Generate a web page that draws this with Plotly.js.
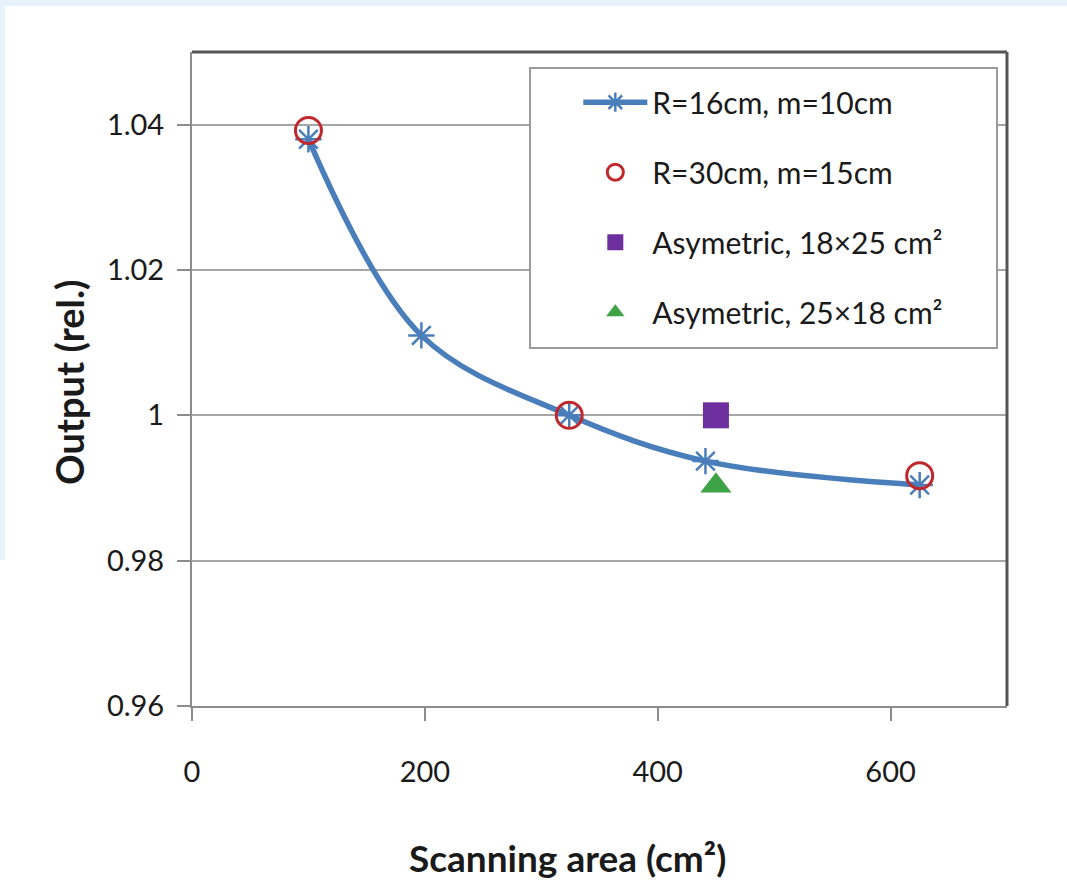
<!DOCTYPE html>
<html>
<head>
<meta charset="utf-8">
<script src="https://cdn.plot.ly/plotly-3.0.1.min.js"></script>
<style>
  html, body { margin: 0; padding: 0; background: #ffffff; }
  #chart { position: absolute; left: 0; top: 0; width: 1067px; height: 884px; }
  .strip { position: absolute; background: #e7f3fc; pointer-events: none; z-index: 5; }
</style>
</head>
<body>
<div id="chart"></div>
<div class="strip" style="left:0;top:0;width:1067px;height:6px;"></div>
<div class="strip" style="left:0;top:0;width:5px;height:560px;"></div>
<script>
// ---- data ----
const seriesNames = [
  "R=16cm, m=10cm",
  "R=30cm, m=15cm",
  "Asymetric, 18×25 cm²",
  "Asymetric, 25×18 cm²"
];
const r16_x = [100, 197, 324, 441, 625];
const r16_y = [1.038, 1.011, 1.000, 0.9937, 0.9904];
const r30_x = [100, 324, 625];
const r30_y = [1.0392, 1.000, 0.9917];
const asym1825_x = [450];
const asym1825_y = [1.000];
const asym2518_x = [450];
const asym2518_y = [0.9903];
const xTickVals = [0, 200, 400, 600];
const xTickText = ["0", "200", "400", "600"];
const yTickVals = [0.96, 0.98, 1.00, 1.02, 1.04];
const yTickText = ["0.96", "0.98", "1", "1.02", "1.04"];
const xTitle = "Scanning area (cm²)";
const yTitle = "Output (rel.)";

const FONT = "Lato, 'Open Sans', 'Liberation Sans', sans-serif";

const traces = [
  {
    x: r16_x, y: r16_y, name: seriesNames[0], type: "scatter", mode: "lines+markers",
    line: { color: "#4a7ebb", width: 5.5, shape: "spline", smoothing: 1 },
    marker: { symbol: "asterisk-open", size: 22, color: "#4a7ebb", line: { color: "#4a7ebb", width: 2.5 } },
    legendgroup: "g1"
  },
  {
    x: r30_x, y: r30_y, name: seriesNames[1], type: "scatter", mode: "markers",
    marker: { symbol: "circle-open", size: 26, color: "#c0282d", line: { color: "#c0282d", width: 3 } },
    legendgroup: "g2"
  },
  {
    x: asym1825_x, y: asym1825_y, name: seriesNames[2], type: "scatter", mode: "markers",
    marker: { symbol: "square", size: 26, color: "#6e2f9e" },
    legendgroup: "g3"
  },
  {
    x: asym2518_x, y: asym2518_y, name: seriesNames[3], type: "scatter", mode: "markers",
    marker: { symbol: "triangle-up", size: 27, color: "#3ea346" },
    legendgroup: "g4"
  }
];

const layout = {
  width: 1067, height: 884,
  margin: { l: 192, r: 60, t: 52, b: 178 },
  paper_bgcolor: "#ffffff",
  plot_bgcolor: "#ffffff",
  font: { family: FONT, color: "#1a1a1a" },
  showlegend: true,
  legend: {
    x: 0.474, y: 0.963, xanchor: "left", yanchor: "top",
    bgcolor: "rgba(0,0,0,0)", borderwidth: 0,
    font: { family: FONT, size: 30, color: "#1a1a1a" },
    tracegroupgap: 28, itemwidth: 64, traceorder: "grouped"
  },
  xaxis: {
    range: [0, 700],
    tickmode: "array", tickvals: xTickVals, ticktext: xTickText,
    ticks: "outside", ticklen: 13, tickwidth: 2, tickcolor: "#8c8c8c",
    ticklabelstandoff: 26,
    showgrid: false, zeroline: false,
    showline: true, linecolor: "#8c8c8c", linewidth: 2, mirror: false,
    tickfont: { family: FONT, size: 29, color: "#1a1a1a" }
  },
  yaxis: {
    range: [0.96, 1.05],
    tickmode: "array", tickvals: yTickVals, ticktext: yTickText,
    ticks: "outside", ticklen: 13, tickwidth: 2, tickcolor: "#8c8c8c",
    ticklabelstandoff: 7,
    showgrid: true, gridcolor: "#a6a6a6", gridwidth: 2,
    zeroline: false,
    showline: true, linecolor: "#8c8c8c", linewidth: 2, mirror: false,
    tickfont: { family: FONT, size: 29, color: "#1a1a1a" }
  },
  shapes: [
    { type: "line", xref: "paper", yref: "paper", x0: 0, x1: 1, y0: 1, y1: 1, line: { color: "#555555", width: 3 } },
    { type: "line", xref: "paper", yref: "paper", x0: 1, x1: 1, y0: 0, y1: 1, line: { color: "#555555", width: 3 } },
    { type: "rect", xref: "paper", yref: "paper", x0: 0.4147, x1: 0.9877, y0: 0.5474, y1: 0.9755,
      fillcolor: "#ffffff", line: { color: "#9a9a9a", width: 2 }, layer: "above" }
  ],
  annotations: [
    { text: xTitle, xref: "paper", yref: "paper", x: 0.461, y: -0.231, xanchor: "center", yanchor: "middle",
      showarrow: false, font: { family: FONT, size: 37, color: "#1a1a1a", weight: "bold" } },
    { text: yTitle, xref: "paper", yref: "paper", x: -0.15, y: 0.495, xanchor: "center", yanchor: "middle",
      textangle: -90, showarrow: false, font: { family: FONT, size: 38, color: "#1a1a1a", weight: "bold" } }
  ]
};

Plotly.newPlot("chart", traces, layout, { displayModeBar: false, staticPlot: true });
</script>
</body>
</html>
